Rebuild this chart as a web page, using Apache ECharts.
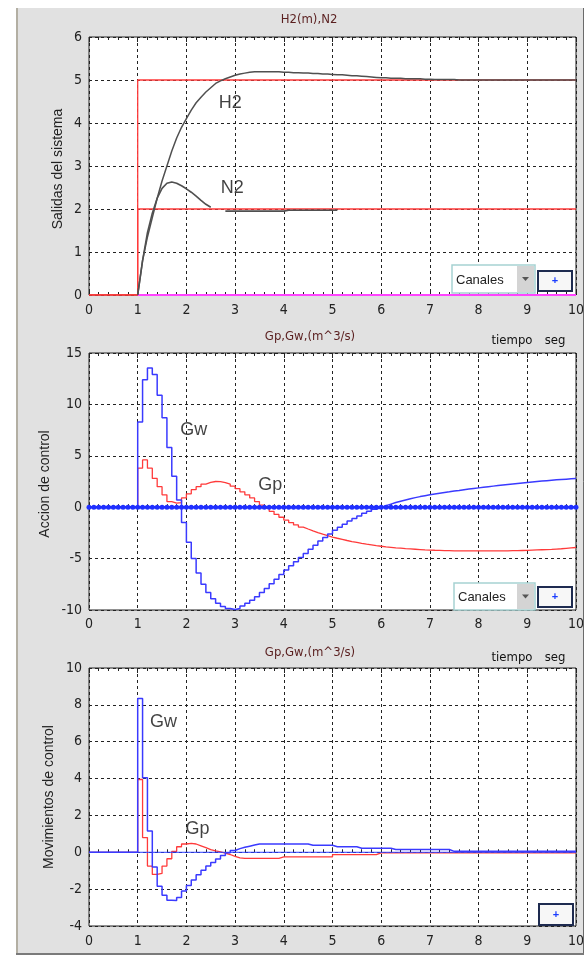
<!DOCTYPE html>
<html><head><meta charset="utf-8">
<script src="https://cdn.jsdelivr.net/npm/echarts@6/dist/echarts.min.js"></script>
<style>html,body{margin:0;padding:0;background:#fff}#c{width:587px;height:958px}</style>
</head><body><div id="c"></div>
<script>
// sample times (s)
const time = [0,0.1,0.2,0.3,0.4,0.5,0.6,0.7,0.8,0.9,
1,1.1,1.2,1.3,1.4,1.5,1.6,1.7,1.8,1.9,
2,2.1,2.2,2.3,2.4,2.5,2.6,2.7,2.8,2.9,
3,3.1,3.2,3.3,3.4,3.5,3.6,3.7,3.8,3.9,
4,4.1,4.2,4.3,4.4,4.5,4.6,4.7,4.8,4.9,
5,5.1,5.2,5.3,5.4,5.5,5.6,5.7,5.8,5.9,
6,6.1,6.2,6.3,6.4,6.5,6.6,6.7,6.8,6.9,
7,7.1,7.2,7.3,7.4,7.5,7.6,7.7,7.8,7.9,
8,8.1,8.2,8.3,8.4,8.5,8.6,8.7,8.8,8.9,
9,9.1,9.2,9.3,9.4,9.5,9.6,9.7,9.8,9.9,10];
const xTicks = [0,1,2,3,4,5,6,7,8,9,10];

// --- chart 1: Salidas del sistema ---
const h2 = [null,null,null,null,null,null,null,null,null,null,
0,0.8,1.35,1.8,2.25,2.65,3.0,3.35,3.65,3.9,
4.1,4.3,4.47,4.6,4.72,4.82,4.92,4.98,5.03,5.07,
5.11,5.14,5.16,5.18,5.19,5.19,5.19,5.19,5.19,5.19,
5.18,5.18,5.17,5.17,5.16,5.16,5.15,5.15,5.14,5.14,
5.13,5.12,5.12,5.11,5.1,5.1,5.09,5.08,5.07,5.06,
5.05,5.05,5.04,5.04,5.04,5.03,5.03,5.03,5.03,5.02,
5.02,5.01,5.01,5.01,5.01,5.01,5,5,5,5,
5,5,5,5,5,5,5,5,5,5,
5,5,5,5,5,5,5,5,5,5,5];
const n2 = [null,null,null,null,null,null,null,null,null,null,
0,0.8,1.45,1.9,2.25,2.48,2.6,2.63,2.6,2.54,
2.47,2.39,2.3,2.2,2.11,2.04,null,null,1.95,1.95,
1.95,1.95,1.95,1.95,1.95,1.95,1.95,1.95,1.95,1.95,
1.95,1.97,1.97,1.97,1.97,1.97,1.97,1.97,1.97,1.97,
1.97,1.97,null,null,null,null,null,null,null,null,
null,null,null,null,null,null,null,null,null,null,
null,null,null,null,null,null,null,null,null,null,
null,null,null,null,null,null,null,null,null,null,
null,null,null,null,null,null,null,null,null,null,null];
const refTime = [0,1,1,10];
const refH2 = [0,0,5,5];
const refN2 = [0,0,2,2];
const magTime = [1,10];
const magVal = [0,0];

// --- chart 2: Accion de control ---
const gwAccion = [0,0,0,0,0,0,0,0,0,0,
8.3,12.4,13.55,12.9,10.9,8.7,5.8,3.0,0.7,-1.5,
-3.4,-5.0,-6.4,-7.5,-8.3,-8.9,-9.35,-9.65,-9.85,-9.95,
-9.85,-9.6,-9.35,-9.05,-8.7,-8.3,-7.9,-7.45,-7.0,-6.55,
-6.1,-5.7,-5.3,-4.9,-4.5,-4.1,-3.7,-3.3,-2.95,-2.6,
-2.25,-1.95,-1.65,-1.35,-1.1,-0.85,-0.6,-0.4,-0.2,-0.02,
0.15,0.3,0.45,0.58,0.7,0.82,0.93,1.03,1.12,1.2,
1.28,1.36,1.43,1.5,1.57,1.63,1.7,1.76,1.82,1.88,
1.94,2.0,2.05,2.1,2.15,2.2,2.25,2.3,2.35,2.4,
2.45,2.5,2.54,2.58,2.62,2.66,2.7,2.73,2.76,2.79,2.82];
const gpAccion = [0,0,0,0,0,0,0,0,0,0,
3.8,4.6,3.8,2.8,2.0,1.2,0.55,0.4,0.45,0.9,
1.3,1.7,2.0,2.25,2.42,2.5,2.48,2.4,2.25,2.05,
1.8,1.5,1.2,0.9,0.55,0.2,-0.1,-0.4,-0.7,-0.98,
-1.25,-1.5,-1.72,-1.93,-2.12,-2.3,-2.47,-2.62,-2.76,-2.9,
-3.02,-3.13,-3.24,-3.34,-3.43,-3.52,-3.6,-3.67,-3.74,-3.8,
-3.86,-3.9,-3.95,-3.99,-4.03,-4.06,-4.09,-4.12,-4.15,-4.17,
-4.19,-4.2,-4.22,-4.23,-4.24,-4.25,-4.25,-4.25,-4.25,-4.25,
-4.25,-4.25,-4.25,-4.25,-4.25,-4.24,-4.23,-4.22,-4.21,-4.2,
-4.18,-4.16,-4.14,-4.12,-4.1,-4.07,-4.04,-4.0,-3.96,-3.92,-3.88];
const zeroAccion = [0,0,0,0,0,0,0,0,0,0,
0,0,0,0,0,0,0,0,0,0,
0,0,0,0,0,0,0,0,0,0,
0,0,0,0,0,0,0,0,0,0,
0,0,0,0,0,0,0,0,0,0,
0,0,0,0,0,0,0,0,0,0,
0,0,0,0,0,0,0,0,0,0,
0,0,0,0,0,0,0,0,0,0,
0,0,0,0,0,0,0,0,0,0,
0,0,0,0,0,0,0,0,0,0,0];

// --- chart 3: Movimientos de control ---
const gwMov = [0,0,0,0,0,0,0,0,0,0,
8.35,4.05,1.15,-0.8,-1.84,-2.33,-2.6,-2.62,-2.45,-2.1,
-1.8,-1.5,-1.22,-0.98,-0.75,-0.55,-0.36,-0.18,-0.02,0.1,
0.2,0.27,0.33,0.39,0.45,0.45,0.45,0.45,0.45,0.45,
0.45,0.45,0.45,0.45,0.45,0.38,0.38,0.38,0.38,0.38,
0.3,0.3,0.3,0.3,0.3,0.22,0.22,0.22,0.22,0.22,
0.22,0.22,0.15,0.15,0.15,0.15,0.15,0.15,0.15,0.15,
0.15,0.15,0.15,0.15,0.05,0.05,0.05,0.05,0.05,0.05,
0.05,0.05,0.05,0.05,0.05,0.05,0.05,0.05,0.05,0.05,
0.05,0.05,0.05,0.05,0.05,0.05,0.05,0.05,0.05,0.05,0.05];
const gpMov = [0,0,0,0,0,0,0,0,0,0,
3.95,0.8,-0.75,-1.2,-1.15,-0.75,-0.35,0.05,0.3,0.45,
0.48,0.45,0.35,0.25,0.15,0.08,0.02,-0.05,-0.12,-0.22,
-0.3,-0.33,-0.33,-0.33,-0.33,-0.33,-0.33,-0.33,-0.33,-0.25,
-0.25,-0.25,-0.25,-0.25,-0.25,-0.25,-0.25,-0.25,-0.25,-0.25,
-0.13,-0.13,-0.13,-0.13,-0.13,-0.13,-0.13,-0.13,-0.13,-0.03,
-0.03,-0.03,-0.03,-0.03,-0.03,-0.03,-0.03,-0.03,-0.03,-0.03,
-0.03,-0.03,-0.03,-0.03,-0.03,-0.03,-0.03,-0.03,-0.03,-0.03,
-0.03,-0.03,-0.03,-0.03,-0.03,-0.03,-0.03,-0.03,-0.03,-0.03,
-0.03,-0.03,-0.03,-0.03,-0.03,-0.03,-0.03,-0.03,-0.03,-0.03,-0.03];
const movZeroT = [0,10];
const movZeroV = [0,0];

const chart = echarts.init(document.getElementById('c'));
const NARROW = "'Liberation Sans Narrow','DejaVu Sans Condensed',sans-serif";
const SANS = "'Liberation Sans',Arial,sans-serif";
const zip = (xs, ys) => xs.map((x, i) => [x, ys[i]]);

const gridBase = {show:true, backgroundColor:'#fff', borderColor:'#222', borderWidth:1, containLabel:false};
const grids = [
  Object.assign({left:89, top:37, width:489, height:258}, gridBase),
  Object.assign({left:89, top:353, width:489, height:257}, gridBase),
  Object.assign({left:89, top:668, width:489, height:258}, gridBase)
];
const dashed = {show:true, lineStyle:{color:'#222', type:[3,3], width:1}};
function xAxes(gi, margin){
  const tick = {show:true, inside:true, length:5, lineStyle:{color:'#222'}};
  const minor = {show:true, splitNumber:5, length:3, lineStyle:{color:'#222'}};
  return [
    {type:'value', gridIndex:gi, min:xTicks[0], max:xTicks[xTicks.length-1], interval:1, position:'bottom',
     axisLine:{show:false}, axisTick:tick, minorTick:minor,
     axisLabel:{margin, color:'#222', fontSize:14, fontFamily:NARROW, showMaxLabel:true},
     splitLine:dashed},
    {type:'value', gridIndex:gi, min:xTicks[0], max:xTicks[xTicks.length-1], interval:1, position:'top',
     axisLine:{show:false}, axisTick:tick, minorTick:minor,
     axisLabel:{show:false}, splitLine:{show:false}}
  ];
}
function yAxis(gi, min, max, interval){
  return {type:'value', gridIndex:gi, min, max, interval,
    axisLine:{show:false}, axisTick:{show:false},
    axisLabel:{margin:7, color:'#222', fontSize:14, fontFamily:NARROW},
    splitLine:dashed};
}
function line(xi, yi, data, color, width, extra){
  return Object.assign({type:'line', xAxisIndex:xi, yAxisIndex:yi, data, showSymbol:false, symbol:'none',
    connectNulls:false, silent:true, animation:false,
    lineStyle:{color, width}, itemStyle:{color}}, extra || {});
}
function tag(xi, yi, x, y, text){
  return {type:'scatter', xAxisIndex:xi, yAxisIndex:yi, data:[[x,y]], symbolSize:2, silent:true, animation:false,
    itemStyle:{color:'rgba(0,0,0,0)'}, z:20,
    label:{show:true, position:'inside', formatter:text, fontSize:18, color:'#111', fontFamily:SANS}};
}

const RED = '#ff3a3a', BLUE = '#3a3aff', GRAY = '#505050';

const series = [
  // chart 1
  line(0,0, zip(refTime, refH2), RED, 1.3),
  line(0,0, zip(refTime, refN2), RED, 1.3),
  line(0,0, zip(magTime, magVal), '#ff44ff', 2),
  line(0,0, zip(time, h2), GRAY, 1.5),
  line(0,0, zip(time, n2), GRAY, 1.6),
  tag(0,0, 2.9, 4.47, 'H2'),
  tag(0,0, 2.94, 2.48, 'N2'),
  // chart 2
  line(2,1, zip(time, gpAccion), RED, 1.3, {step:'end'}),
  line(2,1, zip(time, gwAccion), BLUE, 1.5, {step:'end'}),
  line(2,1, zip(time, zeroAccion), '#1f2fff', 2.5, {showSymbol:true, symbol:'circle', symbolSize:5}),
  tag(2,1, 2.15, 7.46, 'Gw'),
  tag(2,1, 3.72, 2.16, 'Gp'),
  // chart 3
  line(4,2, zip(time, gpMov), RED, 1.3, {step:'end'}),
  line(4,2, zip(movZeroT, movZeroV), '#2a3cff', 1),
  line(4,2, zip(time, gwMov), BLUE, 1.5, {step:'end'}),
  tag(4,2, 1.53, 7.09, 'Gw'),
  tag(4,2, 2.23, 1.25, 'Gp')
];

function dropdown(x, y, w, h){
  return [
    {type:'rect', shape:{x, y, width:w, height:h}, style:{fill:'#fff', stroke:'#a6d2d2', lineWidth:1.5}, z:50},
    {type:'rect', shape:{x:x+w-18, y:y+1, width:17, height:h-2}, style:{fill:'#d4d4d4'}, z:51},
    {type:'polygon', shape:{points:[[x+w-13,y+h/2-2],[x+w-6,y+h/2-2],[x+w-9.5,y+h/2+2]]}, style:{fill:'#555'}, z:52},
    {type:'text', x:x+4, y:y+h/2+1, style:{text:'Canales', font:'13px ' + SANS, fill:'#222', align:'left', verticalAlign:'middle'}, z:52}
  ];
}
function button(x, y, w, h){
  return [
    {type:'rect', shape:{x, y, width:w, height:h}, style:{fill:'#f7f7f7', stroke:'#1e2b50', lineWidth:2}, z:50},
    {type:'text', x:x+w/2, y:y+h/2, style:{text:'+', font:'bold 11px ' + SANS, fill:'#1a3cff', align:'center', verticalAlign:'middle'}, z:52}
  ];
}
function txt(x, y, text, font, fill, extra){
  return Object.assign({type:'text', x, y, style:{text, font, fill, align:'center', verticalAlign:'middle'}, z:60}, extra || {});
}
const TITLE = '13px ' + NARROW;
const graphic = [].concat(
  [
    txt(309, 20, 'H2(m),N2', TITLE, '#5a1f1f'),
    txt(310, 337, 'Gp,Gw,(m^3/s)', TITLE, '#5a1f1f'),
    txt(512, 341, 'tiempo', TITLE, '#111'),
    txt(555, 341, 'seg', TITLE, '#111'),
    txt(310, 653, 'Gp,Gw,(m^3/s)', TITLE, '#5a1f1f'),
    txt(512, 658, 'tiempo', TITLE, '#111'),
    txt(555, 658, 'seg', TITLE, '#111'),
    txt(58, 169, 'Salidas del sistema', '14px ' + SANS, '#222', {rotation:Math.PI/2}),
    txt(45, 484, 'Accion de control', '14px ' + SANS, '#222', {rotation:Math.PI/2}),
    txt(49, 797, 'Movimientos de control', '14px ' + SANS, '#222', {rotation:Math.PI/2})
  ],
  dropdown(452, 265, 83, 28), button(538, 271, 34, 20),
  dropdown(454, 583, 81, 27), button(538, 587, 34, 20),
  button(539, 904, 34, 21),
  [
    {type:'rect', shape:{x:0, y:0, width:16, height:958}, style:{fill:'#fff'}, z:100},
    {type:'rect', shape:{x:0, y:0, width:587, height:8}, style:{fill:'#fff'}, z:100},
    {type:'rect', shape:{x:584, y:0, width:3, height:958}, style:{fill:'#fff'}, z:100},
    {type:'rect', shape:{x:0, y:955, width:587, height:3}, style:{fill:'#fff'}, z:100},
    {type:'line', shape:{x1:17, y1:8, x2:17, y2:955}, style:{stroke:'#b3afa3', lineWidth:2}, z:101},
    {type:'line', shape:{x1:583.5, y1:8, x2:583.5, y2:955}, style:{stroke:'#6a6a6a', lineWidth:1}, z:101},
    {type:'line', shape:{x1:16, y1:954, x2:584, y2:954}, style:{stroke:'#7a7a7a', lineWidth:2}, z:101}
  ]
);

chart.setOption({
  backgroundColor:'#e1e1e1',
  animation:false,
  grid: grids,
  xAxis: [].concat(xAxes(0, 8), xAxes(1, 7), xAxes(2, 8)),
  yAxis: [yAxis(0, 0, 6, 1), yAxis(1, -10, 15, 5), yAxis(2, -4, 10, 2)],
  series,
  graphic
});
</script>
</body></html>
